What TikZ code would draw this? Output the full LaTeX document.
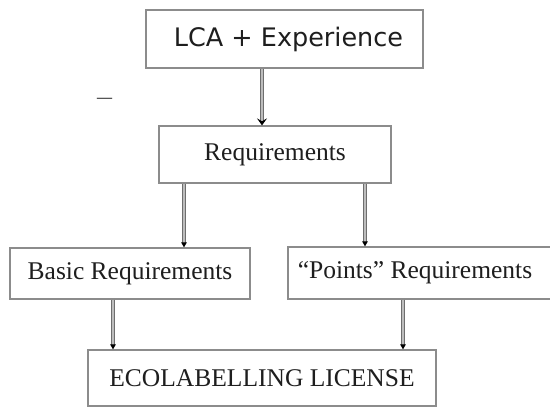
\documentclass[tikz,border=0pt]{standalone}
\usepackage{fontspec}
\setmainfont{Liberation Serif}
\newfontfamily\sansf{DejaVu Sans}
\usetikzlibrary{arrows.meta}
\definecolor{boxline}{HTML}{8C8C8C}
\definecolor{txt}{HTML}{1E1E1E}
\definecolor{shaftedge}{HTML}{6E6E6E}
\definecolor{shaftcore}{HTML}{BDBDBD}
\tikzset{
  box/.style={draw=boxline, line width=1.3pt, inner sep=0pt, text=txt,
    font=\fontsize{25.5}{30}\selectfont},
  bigarrow/.style={draw=shaftedge, double=shaftcore, double distance=2pt, line width=1.2pt,
    -{Stealth[length=7pt,width=10pt,inset=3pt,black]}},
  smallarrow/.style={draw=shaftedge, double=shaftcore, double distance=1.2pt, line width=1pt,
    -{Triangle[length=5pt,width=5.5pt,black]}}
}
\begin{document}
\begin{tikzpicture}[x=1pt,y=-1pt]
\useasboundingbox (0,0) rectangle (550,408);
\fill[white] (0,0) rectangle (550,408);
\node[box, font=\sansf\fontsize{25.5}{30}\selectfont, minimum width=277pt, minimum height=58pt] (lca) at (284.5,39) {\hspace*{8pt}LCA + Experience};
\node[box, minimum width=232pt, minimum height=57pt] (req) at (275,154.5) {Requirements};
\node[box, minimum width=240pt, minimum height=51pt] (basic) at (130,273.5) {Basic Requirements};
\node[box, minimum width=267pt, minimum height=52pt] (points) at (421.5,273) {\hspace*{-13pt}“Points” Requirements};
\node[box, minimum width=348pt, minimum height=56pt] (eco) at (262,378) {ECOLABELLING LICENSE};
\node[text=txt!80, font=\sansf\fontsize{17}{20}\selectfont, inner sep=0pt, anchor=base] (dash) at (104.5,103) {—};
\draw[bigarrow] ([xshift=-22.5pt]lca.south) -- ([xshift=-13pt]req.north);
\draw[smallarrow] ([xshift=-91pt]req.south) -- ([xshift=54pt]basic.north);
\draw[smallarrow] ([xshift=90pt]req.south) -- ([xshift=-56.5pt]points.north);
\draw[smallarrow] ([xshift=-17pt]basic.south) -- ([xshift=-149pt]eco.north);
\draw[smallarrow] ([xshift=-18.5pt]points.south) -- ([xshift=141pt]eco.north);
\end{tikzpicture}
\end{document}
